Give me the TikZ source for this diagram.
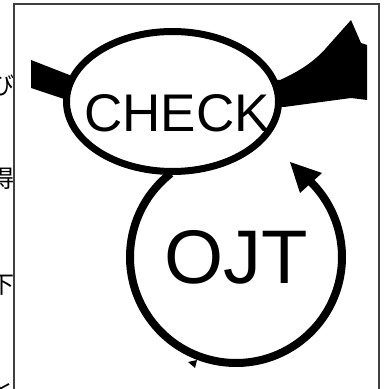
\documentclass[tikz,border=0pt]{standalone}
\usepackage{fontspec}
\setmainfont{Liberation Sans}
\newfontfamily\jpfont{Noto Sans CJK JP}
\usepackage{tikz}
\usetikzlibrary{calc}

\begin{document}
\begin{tikzpicture}[x=1pt,y=1pt,
		ring/.style={line width=8pt},
		bubble/.style={draw,fill=white,line width=7pt},
		side/.style={font=\jpfont\fontsize{24}{24}\selectfont,anchor=east,inner sep=0pt}]
			\useasboundingbox (0,0) rectangle (388,389);
			\clip (0,0) rectangle (388,389);
			\coordinate (E) at (172.5,287.5);
			\coordinate (C) at (236,132);
			% text cut off at the left
			\node[side] (j1) at (14.5,304) {び};
			\node[side] (j2) at (14.5,211) {得};
			\node[side] (j3) at (14.5,104) {下};
			\node[side] (j4) at (14.5,-1) {と};
			\draw[black!75,line width=1.1pt] (14,-5) rectangle (379,385);
			% wedges on both sides
			\fill (31,329) -- (72,313) -- (95,305) -- (90,292) -- (64,290) -- (31,301) -- cycle;
			\fill (262,309) -- (280,309) .. controls (300,318) and (315,328) .. (327,342)
				-- (351,369) -- (361,346) -- (367,344) -- (367,289) -- (351,291) -- (284,282) -- (262,284) -- cycle;
			% loop round OJT
			\draw[ring] (C) ++(128:106) arc (128:407:106);
			\fill (290,227) -- (300,196) -- (322,216) -- cycle;
			\fill (188,27) -- (197,29) -- (195,21) -- cycle;
			\draw[bubble] (E) ellipse (106 and 70);
			\node[inner sep=0pt,font=\fontsize{53}{53}\selectfont] (check) at (177,275.5) {CHECK};
			\node[inner sep=0pt,font=\fontsize{76}{76}\selectfont] (ojt) at (236,131.5) {OJT};
		\end{tikzpicture}
\end{document}
